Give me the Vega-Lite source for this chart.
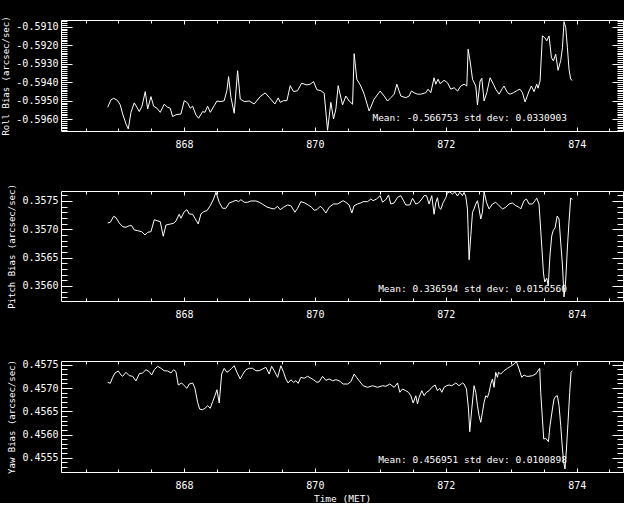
{
"$schema": "https://vega.github.io/schema/vega-lite/v6.json",
"background": "black",
"padding": {"left": 0, "top": 15, "right": 0, "bottom": 0},
"autosize": {"type": "pad"},
"spacing": 60,
"bounds": "flush",
"config": {
 "view": {"stroke": "white", "strokeWidth": 1},
 "axis": {"domain": false, "grid": false, "tickColor": "white", "tickWidth": 1, "labelColor": "white", "titleColor": "white", "labelFont": "DejaVu Sans Mono", "labelFontSize": 10, "titleFont": "DejaVu Sans Mono", "titleFontSize": 9, "titleFontWeight": "normal", "labelOverlap": false, "labelFlush": false, "labelBound": false}
},
"datasets": {
"roll": [
{"t":866.835,"v":-0.59536},{"t":866.885,"v":-0.59496},{"t":866.927,"v":-0.59487},{"t":866.988,"v":-0.59500},{"t":867.027,"v":-0.59523},{"t":867.064,"v":-0.59572},{"t":867.115,"v":-0.59626},{"t":867.150,"v":-0.59653},{"t":867.191,"v":-0.59563},{"t":867.241,"v":-0.59512},{"t":867.282,"v":-0.59536},{"t":867.318,"v":-0.59559},{"t":867.359,"v":-0.59530},{"t":867.409,"v":-0.59451},{"t":867.446,"v":-0.59545},{"t":867.496,"v":-0.59478},{"t":867.537,"v":-0.59530},{"t":867.588,"v":-0.59541},{"t":867.638,"v":-0.59563},{"t":867.699,"v":-0.59519},{"t":867.751,"v":-0.59536},{"t":867.791,"v":-0.59541},{"t":867.827,"v":-0.59586},{"t":867.878,"v":-0.59576},{"t":867.954,"v":-0.59572},{"t":868.005,"v":-0.59500},{"t":868.056,"v":-0.59512},{"t":868.096,"v":-0.59541},{"t":868.133,"v":-0.59530},{"t":868.183,"v":-0.59577},{"t":868.224,"v":-0.59595},{"t":868.285,"v":-0.59559},{"t":868.321,"v":-0.59563},{"t":868.362,"v":-0.59530},{"t":868.402,"v":-0.59563},{"t":868.463,"v":-0.59527},{"t":868.504,"v":-0.59502},{"t":868.565,"v":-0.59505},{"t":868.615,"v":-0.59500},{"t":868.656,"v":-0.59446},{"t":868.682,"v":-0.59370},{"t":868.718,"v":-0.59482},{"t":868.768,"v":-0.59568},{"t":868.820,"v":-0.59338},{"t":868.860,"v":-0.59491},{"t":868.921,"v":-0.59505},{"t":868.997,"v":-0.59502},{"t":869.073,"v":-0.59518},{"t":869.165,"v":-0.59478},{"t":869.241,"v":-0.59458},{"t":869.302,"v":-0.59482},{"t":869.389,"v":-0.59518},{"t":869.440,"v":-0.59485},{"t":869.470,"v":-0.59509},{"t":869.522,"v":-0.59500},{"t":869.573,"v":-0.59500},{"t":869.623,"v":-0.59419},{"t":869.675,"v":-0.59451},{"t":869.736,"v":-0.59446},{"t":869.797,"v":-0.59406},{"t":869.878,"v":-0.59415},{"t":869.928,"v":-0.59411},{"t":869.980,"v":-0.59397},{"t":870.031,"v":-0.59441},{"t":870.092,"v":-0.59446},{"t":870.142,"v":-0.59460},{"t":870.194,"v":-0.59660},{"t":870.244,"v":-0.59509},{"t":870.285,"v":-0.59599},{"t":870.321,"v":-0.59545},{"t":870.356,"v":-0.59419},{"t":870.423,"v":-0.59523},{"t":870.473,"v":-0.59475},{"t":870.524,"v":-0.59502},{"t":870.576,"v":-0.59519},{"t":870.600,"v":-0.59246},{"t":870.641,"v":-0.59384},{"t":870.702,"v":-0.59421},{"t":870.753,"v":-0.59465},{"t":870.829,"v":-0.59556},{"t":870.905,"v":-0.59492},{"t":870.997,"v":-0.59448},{"t":871.058,"v":-0.59475},{"t":871.110,"v":-0.59502},{"t":871.160,"v":-0.59484},{"t":871.211,"v":-0.59465},{"t":871.252,"v":-0.59411},{"t":871.313,"v":-0.59475},{"t":871.389,"v":-0.59484},{"t":871.440,"v":-0.59475},{"t":871.476,"v":-0.59448},{"t":871.516,"v":-0.59457},{"t":871.568,"v":-0.59465},{"t":871.618,"v":-0.59465},{"t":871.695,"v":-0.59457},{"t":871.730,"v":-0.59438},{"t":871.771,"v":-0.59457},{"t":871.821,"v":-0.59376},{"t":871.847,"v":-0.59411},{"t":871.882,"v":-0.59384},{"t":871.913,"v":-0.59408},{"t":871.974,"v":-0.59390},{"t":872.026,"v":-0.59403},{"t":872.076,"v":-0.59438},{"t":872.127,"v":-0.59430},{"t":872.179,"v":-0.59448},{"t":872.229,"v":-0.59421},{"t":872.279,"v":-0.59411},{"t":872.321,"v":-0.59421},{"t":872.341,"v":-0.59222},{"t":872.371,"v":-0.59285},{"t":872.408,"v":-0.59384},{"t":872.458,"v":-0.59421},{"t":872.484,"v":-0.59523},{"t":872.524,"v":-0.59394},{"t":872.550,"v":-0.59379},{"t":872.585,"v":-0.59502},{"t":872.626,"v":-0.59457},{"t":872.676,"v":-0.59376},{"t":872.728,"v":-0.59411},{"t":872.763,"v":-0.59438},{"t":872.814,"v":-0.59465},{"t":872.866,"v":-0.59433},{"t":872.890,"v":-0.59421},{"t":872.942,"v":-0.59457},{"t":872.982,"v":-0.59465},{"t":873.034,"v":-0.59457},{"t":873.095,"v":-0.59444},{"t":873.134,"v":-0.59438},{"t":873.171,"v":-0.59457},{"t":873.211,"v":-0.59507},{"t":873.272,"v":-0.59448},{"t":873.308,"v":-0.59421},{"t":873.348,"v":-0.59451},{"t":873.389,"v":-0.59411},{"t":873.409,"v":-0.59433},{"t":873.440,"v":-0.59394},{"t":873.476,"v":-0.59150},{"t":873.511,"v":-0.59159},{"t":873.542,"v":-0.59177},{"t":873.577,"v":-0.59150},{"t":873.614,"v":-0.59268},{"t":873.644,"v":-0.59285},{"t":873.679,"v":-0.59249},{"t":873.715,"v":-0.59336},{"t":873.756,"v":-0.59282},{"t":873.782,"v":-0.59214},{"t":873.806,"v":-0.59073},{"t":873.832,"v":-0.59105},{"t":873.858,"v":-0.59214},{"t":873.882,"v":-0.59330},{"t":873.908,"v":-0.59384},{"t":873.934,"v":-0.59390}
],
"pitch": [
{"t":866.835,"v":0.357112},{"t":866.875,"v":0.357124},{"t":866.927,"v":0.357230},{"t":866.962,"v":0.357205},{"t":867.012,"v":0.357112},{"t":867.064,"v":0.357046},{"t":867.115,"v":0.357036},{"t":867.165,"v":0.357064},{"t":867.202,"v":0.357064},{"t":867.241,"v":0.356988},{"t":867.293,"v":0.356976},{"t":867.354,"v":0.356958},{"t":867.405,"v":0.356900},{"t":867.446,"v":0.356948},{"t":867.496,"v":0.356958},{"t":867.547,"v":0.357170},{"t":867.588,"v":0.357152},{"t":867.638,"v":0.357135},{"t":867.684,"v":0.356877},{"t":867.725,"v":0.357076},{"t":867.776,"v":0.357089},{"t":867.843,"v":0.357106},{"t":867.878,"v":0.357147},{"t":867.928,"v":0.357265},{"t":867.954,"v":0.357195},{"t":868.005,"v":0.357311},{"t":868.046,"v":0.357346},{"t":868.081,"v":0.357271},{"t":868.133,"v":0.357265},{"t":868.168,"v":0.357195},{"t":868.218,"v":0.357094},{"t":868.260,"v":0.357271},{"t":868.301,"v":0.357311},{"t":868.351,"v":0.357329},{"t":868.402,"v":0.357417},{"t":868.453,"v":0.357535},{"t":868.489,"v":0.357654},{"t":868.539,"v":0.357477},{"t":868.591,"v":0.357371},{"t":868.641,"v":0.357371},{"t":868.692,"v":0.357465},{"t":868.744,"v":0.357488},{"t":868.794,"v":0.357512},{"t":868.835,"v":0.357488},{"t":868.870,"v":0.357523},{"t":868.921,"v":0.357477},{"t":868.973,"v":0.357477},{"t":869.023,"v":0.357500},{"t":869.099,"v":0.357500},{"t":869.150,"v":0.357477},{"t":869.202,"v":0.357442},{"t":869.267,"v":0.357394},{"t":869.328,"v":0.357371},{"t":869.379,"v":0.357359},{"t":869.431,"v":0.357406},{"t":869.470,"v":0.357346},{"t":869.522,"v":0.357389},{"t":869.583,"v":0.357429},{"t":869.634,"v":0.357417},{"t":869.695,"v":0.357301},{"t":869.736,"v":0.357371},{"t":869.786,"v":0.357488},{"t":869.847,"v":0.357465},{"t":869.898,"v":0.357429},{"t":869.950,"v":0.357389},{"t":869.989,"v":0.357336},{"t":870.031,"v":0.357346},{"t":870.081,"v":0.357406},{"t":870.118,"v":0.357371},{"t":870.168,"v":0.357288},{"t":870.218,"v":0.357389},{"t":870.285,"v":0.357447},{"t":870.347,"v":0.357447},{"t":870.432,"v":0.357505},{"t":870.473,"v":0.357477},{"t":870.524,"v":0.357429},{"t":870.565,"v":0.357288},{"t":870.600,"v":0.357417},{"t":870.652,"v":0.357447},{"t":870.702,"v":0.357465},{"t":870.737,"v":0.357488},{"t":870.805,"v":0.357488},{"t":870.855,"v":0.357535},{"t":870.890,"v":0.357505},{"t":870.942,"v":0.357535},{"t":870.997,"v":0.357594},{"t":871.034,"v":0.357477},{"t":871.084,"v":0.357523},{"t":871.125,"v":0.357606},{"t":871.160,"v":0.357447},{"t":871.211,"v":0.357465},{"t":871.263,"v":0.357565},{"t":871.313,"v":0.357594},{"t":871.389,"v":0.357429},{"t":871.450,"v":0.357429},{"t":871.492,"v":0.357548},{"t":871.542,"v":0.357447},{"t":871.583,"v":0.357465},{"t":871.634,"v":0.357535},{"t":871.669,"v":0.357594},{"t":871.705,"v":0.357594},{"t":871.745,"v":0.357447},{"t":871.786,"v":0.357594},{"t":871.821,"v":0.357265},{"t":871.847,"v":0.357470},{"t":871.873,"v":0.357558},{"t":871.898,"v":0.357382},{"t":871.924,"v":0.357353},{"t":871.959,"v":0.357470},{"t":872.000,"v":0.357558},{"t":872.026,"v":0.357646},{"t":872.061,"v":0.357659},{"t":872.102,"v":0.357624},{"t":872.137,"v":0.357659},{"t":872.179,"v":0.357588},{"t":872.214,"v":0.357654},{"t":872.255,"v":0.357594},{"t":872.279,"v":0.357654},{"t":872.305,"v":0.357583},{"t":872.331,"v":0.357359},{"t":872.356,"v":0.356464},{"t":872.382,"v":0.356888},{"t":872.408,"v":0.357301},{"t":872.432,"v":0.357359},{"t":872.458,"v":0.357447},{"t":872.484,"v":0.357505},{"t":872.508,"v":0.357359},{"t":872.534,"v":0.357182},{"t":872.560,"v":0.357301},{"t":872.585,"v":0.357664},{"t":872.621,"v":0.357477},{"t":872.661,"v":0.357359},{"t":872.713,"v":0.357447},{"t":872.763,"v":0.357477},{"t":872.814,"v":0.357417},{"t":872.866,"v":0.357359},{"t":872.916,"v":0.357389},{"t":872.966,"v":0.357447},{"t":873.018,"v":0.357465},{"t":873.069,"v":0.357417},{"t":873.119,"v":0.357389},{"t":873.145,"v":0.357359},{"t":873.195,"v":0.357505},{"t":873.232,"v":0.357535},{"t":873.272,"v":0.357447},{"t":873.324,"v":0.357447},{"t":873.363,"v":0.357505},{"t":873.389,"v":0.357548},{"t":873.424,"v":0.357447},{"t":873.466,"v":0.356706},{"t":873.492,"v":0.356229},{"t":873.511,"v":0.356071},{"t":873.542,"v":0.356136},{"t":873.565,"v":0.356009},{"t":873.592,"v":0.356547},{"t":873.618,"v":0.356882},{"t":873.641,"v":0.356979},{"t":873.669,"v":0.357024},{"t":873.702,"v":0.357235},{"t":873.730,"v":0.357182},{"t":873.756,"v":0.356759},{"t":873.782,"v":0.356371},{"t":873.806,"v":0.355806},{"t":873.832,"v":0.356106},{"t":873.858,"v":0.356688},{"t":873.882,"v":0.357129},{"t":873.908,"v":0.357553},{"t":873.934,"v":0.357526}
],
"yaw": [
{"t":866.835,"v":0.457123},{"t":866.875,"v":0.457101},{"t":866.911,"v":0.457230},{"t":866.947,"v":0.457323},{"t":866.997,"v":0.457366},{"t":867.038,"v":0.457280},{"t":867.064,"v":0.457252},{"t":867.115,"v":0.457338},{"t":867.165,"v":0.457265},{"t":867.217,"v":0.457252},{"t":867.267,"v":0.457151},{"t":867.318,"v":0.457308},{"t":867.369,"v":0.457323},{"t":867.420,"v":0.457394},{"t":867.470,"v":0.457351},{"t":867.507,"v":0.457280},{"t":867.547,"v":0.457394},{"t":867.598,"v":0.457467},{"t":867.649,"v":0.457424},{"t":867.699,"v":0.457372},{"t":867.751,"v":0.457366},{"t":867.802,"v":0.457323},{"t":867.843,"v":0.457394},{"t":867.878,"v":0.457351},{"t":867.913,"v":0.457065},{"t":867.965,"v":0.457108},{"t":868.005,"v":0.457049},{"t":868.046,"v":0.456994},{"t":868.081,"v":0.457086},{"t":868.133,"v":0.457108},{"t":868.168,"v":0.456994},{"t":868.209,"v":0.456692},{"t":868.240,"v":0.456548},{"t":868.285,"v":0.456533},{"t":868.321,"v":0.456563},{"t":868.362,"v":0.456619},{"t":868.402,"v":0.456563},{"t":868.438,"v":0.456705},{"t":868.473,"v":0.456834},{"t":868.504,"v":0.456963},{"t":868.539,"v":0.456677},{"t":868.576,"v":0.457301},{"t":868.615,"v":0.457424},{"t":868.656,"v":0.457338},{"t":868.692,"v":0.457372},{"t":868.728,"v":0.457424},{"t":868.768,"v":0.457480},{"t":868.809,"v":0.457338},{"t":868.860,"v":0.457194},{"t":868.911,"v":0.457323},{"t":868.947,"v":0.457394},{"t":868.997,"v":0.457424},{"t":869.049,"v":0.457424},{"t":869.099,"v":0.457372},{"t":869.150,"v":0.457372},{"t":869.202,"v":0.457409},{"t":869.252,"v":0.457445},{"t":869.302,"v":0.457301},{"t":869.339,"v":0.457467},{"t":869.379,"v":0.457372},{"t":869.431,"v":0.457230},{"t":869.481,"v":0.457480},{"t":869.522,"v":0.457338},{"t":869.557,"v":0.457194},{"t":869.592,"v":0.457108},{"t":869.634,"v":0.457178},{"t":869.675,"v":0.457123},{"t":869.710,"v":0.457157},{"t":869.745,"v":0.457101},{"t":869.786,"v":0.457230},{"t":869.837,"v":0.457209},{"t":869.888,"v":0.457252},{"t":869.928,"v":0.457222},{"t":869.980,"v":0.457178},{"t":870.031,"v":0.457123},{"t":870.066,"v":0.457135},{"t":870.118,"v":0.457252},{"t":870.168,"v":0.457166},{"t":870.218,"v":0.457194},{"t":870.270,"v":0.457157},{"t":870.321,"v":0.457178},{"t":870.371,"v":0.457157},{"t":870.432,"v":0.457086},{"t":870.499,"v":0.457086},{"t":870.550,"v":0.457135},{"t":870.600,"v":0.457301},{"t":870.637,"v":0.457230},{"t":870.676,"v":0.457157},{"t":870.737,"v":0.457049},{"t":870.805,"v":0.457015},{"t":870.881,"v":0.457049},{"t":870.957,"v":0.457015},{"t":871.034,"v":0.457049},{"t":871.084,"v":0.457037},{"t":871.145,"v":0.457086},{"t":871.211,"v":0.457015},{"t":871.263,"v":0.457108},{"t":871.298,"v":0.456908},{"t":871.339,"v":0.456978},{"t":871.389,"v":0.456942},{"t":871.430,"v":0.456908},{"t":871.466,"v":0.456834},{"t":871.501,"v":0.456677},{"t":871.542,"v":0.456834},{"t":871.568,"v":0.456656},{"t":871.592,"v":0.456800},{"t":871.634,"v":0.456942},{"t":871.669,"v":0.456834},{"t":871.705,"v":0.456908},{"t":871.745,"v":0.456942},{"t":871.786,"v":0.457015},{"t":871.837,"v":0.457065},{"t":871.873,"v":0.456942},{"t":871.908,"v":0.456994},{"t":871.939,"v":0.456908},{"t":871.974,"v":0.457015},{"t":872.011,"v":0.457049},{"t":872.050,"v":0.457065},{"t":872.092,"v":0.457049},{"t":872.153,"v":0.457108},{"t":872.203,"v":0.457049},{"t":872.255,"v":0.457108},{"t":872.279,"v":0.457086},{"t":872.316,"v":0.456978},{"t":872.347,"v":0.456548},{"t":872.366,"v":0.456060},{"t":872.397,"v":0.456548},{"t":872.432,"v":0.457049},{"t":872.458,"v":0.456908},{"t":872.484,"v":0.456619},{"t":872.508,"v":0.456404},{"t":872.534,"v":0.456262},{"t":872.560,"v":0.456477},{"t":872.585,"v":0.456692},{"t":872.611,"v":0.456834},{"t":872.637,"v":0.456800},{"t":872.661,"v":0.456908},{"t":872.687,"v":0.457086},{"t":872.713,"v":0.457194},{"t":872.737,"v":0.457015},{"t":872.763,"v":0.457338},{"t":872.789,"v":0.457230},{"t":872.805,"v":0.457338},{"t":872.840,"v":0.457301},{"t":872.890,"v":0.457372},{"t":872.942,"v":0.457424},{"t":872.992,"v":0.457467},{"t":873.043,"v":0.457516},{"t":873.079,"v":0.457566},{"t":873.119,"v":0.457409},{"t":873.160,"v":0.457230},{"t":873.195,"v":0.457280},{"t":873.232,"v":0.457252},{"t":873.272,"v":0.457252},{"t":873.324,"v":0.457265},{"t":873.374,"v":0.457301},{"t":873.409,"v":0.457372},{"t":873.435,"v":0.457424},{"t":873.450,"v":0.456908},{"t":873.476,"v":0.456333},{"t":873.496,"v":0.455903},{"t":873.527,"v":0.455918},{"t":873.568,"v":0.455845},{"t":873.592,"v":0.456189},{"t":873.629,"v":0.456548},{"t":873.653,"v":0.456763},{"t":873.679,"v":0.456822},{"t":873.705,"v":0.456834},{"t":873.730,"v":0.456619},{"t":873.756,"v":0.456189},{"t":873.782,"v":0.455688},{"t":873.802,"v":0.455402},{"t":873.821,"v":0.455258},{"t":873.843,"v":0.455688},{"t":873.867,"v":0.456262},{"t":873.893,"v":0.456908},{"t":873.913,"v":0.457338},{"t":873.934,"v":0.457372}
],
"notes": [{"panel": "roll", "label": "Mean: -0.566753 std dev: 0.0330903"}, {"panel": "pitch", "label": "Mean: 0.336594 std dev: 0.0156560"}, {"panel": "yaw", "label": "Mean: 0.456951 std dev: 0.0100898"}]
},
"vconcat": [
{
 "width": 562, "height": 111,
 "layer": [
  {"data": {"name": "roll"},
   "mark": {"type": "line", "color": "white", "strokeWidth": 1, "clip": true},
   "encoding": {
    "x": {"field": "t", "type": "quantitative", "scale": {"domain": [866.122, 874.707], "nice": false, "zero": false},
     "axis": {"orient": "bottom", "title": null, "values": [866.5,867,867.5,868,868.5,869,869.5,870,870.5,871,871.5,872,872.5,873,873.5,874,874.5], "tickSize": {"condition": {"test": "abs(datum.value/2 - round(datum.value/2)) < 0.001", "value": -4}, "value": -3}, "labelExpr": "abs(datum.value/2 - round(datum.value/2)) < 0.001 ? format(datum.value, 'd') : ''", "labelPadding": 12}},
    "y": {"field": "v", "type": "quantitative", "scale": {"domain": [-0.59664, -0.59064], "nice": false, "zero": false},
     "axis": {"orient": "left", "title": "Roll Bias (arcsec/sec)", "titleX": -51, "values": [-0.5966,-0.5965,-0.5964,-0.5963,-0.5962,-0.5961,-0.5960,-0.5959,-0.5958,-0.5957,-0.5956,-0.5955,-0.5954,-0.5953,-0.5952,-0.5951,-0.5950,-0.5949,-0.5948,-0.5947,-0.5946,-0.5945,-0.5944,-0.5943,-0.5942,-0.5941,-0.5940,-0.5939,-0.5938,-0.5937,-0.5936,-0.5935,-0.5934,-0.5933,-0.5932,-0.5931,-0.5930,-0.5929,-0.5928,-0.5927,-0.5926,-0.5925,-0.5924,-0.5923,-0.5922,-0.5921,-0.5920,-0.5919,-0.5918,-0.5917,-0.5916,-0.5915,-0.5914,-0.5913,-0.5912,-0.5911,-0.5910,-0.5909,-0.5908,-0.5907], "tickSize": {"condition": {"test": "abs(datum.value*1000 - round(datum.value*1000)) < 0.001", "value": -11}, "value": -6}, "labelExpr": "abs(datum.value*1000 - round(datum.value*1000)) < 0.001 ? replace(format(datum.value, '.4f'), '\u2212', '-') : ''", "labelPadding": 14}}
   }},
  {"data": {"name": "notes"},
   "transform": [{"filter": "datum.panel == 'roll'"}],
   "mark": {"type": "text", "align": "right", "baseline": "alphabetic", "color": "white", "font": "DejaVu Sans Mono", "fontSize": 9.5},
   "encoding": {
    "text": {"field": "label", "type": "nominal"},
    "x": {"datum": 873.85, "type": "quantitative", "axis": {"orient": "top", "title": null, "labels": false, "values": [866.5,867,867.5,868,868.5,869,869.5,870,870.5,871,871.5,872,872.5,873,873.5,874,874.5], "tickSize": {"condition": {"test": "abs(datum.value/2 - round(datum.value/2)) < 0.001", "value": -4}, "value": -3}}},
    "y": {"datum": -0.59610, "type": "quantitative", "axis": {"orient": "right", "title": null, "labels": false, "values": [-0.5966,-0.5965,-0.5964,-0.5963,-0.5962,-0.5961,-0.5960,-0.5959,-0.5958,-0.5957,-0.5956,-0.5955,-0.5954,-0.5953,-0.5952,-0.5951,-0.5950,-0.5949,-0.5948,-0.5947,-0.5946,-0.5945,-0.5944,-0.5943,-0.5942,-0.5941,-0.5940,-0.5939,-0.5938,-0.5937,-0.5936,-0.5935,-0.5934,-0.5933,-0.5932,-0.5931,-0.5930,-0.5929,-0.5928,-0.5927,-0.5926,-0.5925,-0.5924,-0.5923,-0.5922,-0.5921,-0.5920,-0.5919,-0.5918,-0.5917,-0.5916,-0.5915,-0.5914,-0.5913,-0.5912,-0.5911,-0.5910,-0.5909,-0.5908,-0.5907], "tickSize": {"condition": {"test": "abs(datum.value*1000 - round(datum.value*1000)) < 0.001", "value": -11}, "value": -6}}}
   }}
 ],
 "resolve": {"axis": {"x": "independent", "y": "independent"}}
},
{
 "width": 562, "height": 110,
 "layer": [
  {"data": {"name": "pitch"},
   "mark": {"type": "line", "color": "white", "strokeWidth": 1, "clip": true},
   "encoding": {
    "x": {"field": "t", "type": "quantitative", "scale": {"domain": [866.122, 874.707], "nice": false, "zero": false},
     "axis": {"orient": "bottom", "title": null, "values": [866.5,867,867.5,868,868.5,869,869.5,870,870.5,871,871.5,872,872.5,873,873.5,874,874.5], "tickSize": {"condition": {"test": "abs(datum.value/2 - round(datum.value/2)) < 0.001", "value": -4}, "value": -3}, "labelExpr": "abs(datum.value/2 - round(datum.value/2)) < 0.001 ? format(datum.value, 'd') : ''", "labelPadding": 12}},
    "y": {"field": "v", "type": "quantitative", "scale": {"domain": [0.355735, 0.357676], "nice": false, "zero": false},
     "axis": {"orient": "left", "title": "Pitch Bias (arcsec/sec)", "titleX": -45, "values": [0.3558,0.3559,0.3560,0.3561,0.3562,0.3563,0.3564,0.3565,0.3566,0.3567,0.3568,0.3569,0.3570,0.3571,0.3572,0.3573,0.3574,0.3575,0.3576], "tickSize": {"condition": {"test": "abs(datum.value*2000 - round(datum.value*2000)) < 0.001", "value": -11}, "value": -6}, "labelExpr": "abs(datum.value*2000 - round(datum.value*2000)) < 0.001 ? format(datum.value, '.4f') : ''", "labelPadding": 14}}
   }},
  {"data": {"name": "notes"},
   "transform": [{"filter": "datum.panel == 'pitch'"}],
   "mark": {"type": "text", "align": "right", "baseline": "alphabetic", "color": "white", "font": "DejaVu Sans Mono", "fontSize": 9.5},
   "encoding": {
    "text": {"field": "label", "type": "nominal"},
    "x": {"datum": 873.85, "type": "quantitative", "axis": {"orient": "top", "title": null, "labels": false, "values": [866.5,867,867.5,868,868.5,869,869.5,870,870.5,871,871.5,872,872.5,873,873.5,874,874.5], "tickSize": {"condition": {"test": "abs(datum.value/2 - round(datum.value/2)) < 0.001", "value": -4}, "value": -3}}},
    "y": {"datum": 0.355899, "type": "quantitative", "axis": {"orient": "right", "title": null, "labels": false, "values": [0.3558,0.3559,0.3560,0.3561,0.3562,0.3563,0.3564,0.3565,0.3566,0.3567,0.3568,0.3569,0.3570,0.3571,0.3572,0.3573,0.3574,0.3575,0.3576], "tickSize": {"condition": {"test": "abs(datum.value*2000 - round(datum.value*2000)) < 0.001", "value": -11}, "value": -6}}}
   }}
 ],
 "resolve": {"axis": {"x": "independent", "y": "independent"}}
},
{
 "width": 562, "height": 111,
 "layer": [
  {"data": {"name": "yaw"},
   "mark": {"type": "line", "color": "white", "strokeWidth": 1, "clip": true},
   "encoding": {
    "x": {"field": "t", "type": "quantitative", "scale": {"domain": [866.122, 874.707], "nice": false, "zero": false},
     "axis": {"orient": "bottom", "title": "Time (MET)", "titleFontSize": 9.5, "titlePadding": 2, "values": [866.5,867,867.5,868,868.5,869,869.5,870,870.5,871,871.5,872,872.5,873,873.5,874,874.5], "tickSize": {"condition": {"test": "abs(datum.value/2 - round(datum.value/2)) < 0.001", "value": -4}, "value": -3}, "labelExpr": "abs(datum.value/2 - round(datum.value/2)) < 0.001 ? format(datum.value, 'd') : ''", "labelPadding": 12}},
    "y": {"field": "v", "type": "quantitative", "scale": {"domain": [0.455194, 0.457581], "nice": false, "zero": false},
     "axis": {"orient": "left", "title": "Yaw Bias (arcsec/sec)", "titleX": -45, "values": [0.4552,0.4553,0.4554,0.4555,0.4556,0.4557,0.4558,0.4559,0.4560,0.4561,0.4562,0.4563,0.4564,0.4565,0.4566,0.4567,0.4568,0.4569,0.4570,0.4571,0.4572,0.4573,0.4574,0.4575], "tickSize": {"condition": {"test": "abs(datum.value*2000 - round(datum.value*2000)) < 0.001", "value": -11}, "value": -6}, "labelExpr": "abs(datum.value*2000 - round(datum.value*2000)) < 0.001 ? format(datum.value, '.4f') : ''", "labelPadding": 14}}
   }},
  {"data": {"name": "notes"},
   "transform": [{"filter": "datum.panel == 'yaw'"}],
   "mark": {"type": "text", "align": "right", "baseline": "alphabetic", "color": "white", "font": "DejaVu Sans Mono", "fontSize": 9.5},
   "encoding": {
    "text": {"field": "label", "type": "nominal"},
    "x": {"datum": 873.85, "type": "quantitative", "axis": {"orient": "top", "title": null, "labels": false, "values": [866.5,867,867.5,868,868.5,869,869.5,870,870.5,871,871.5,872,872.5,873,873.5,874,874.5], "tickSize": {"condition": {"test": "abs(datum.value/2 - round(datum.value/2)) < 0.001", "value": -4}, "value": -3}}},
    "y": {"datum": 0.455394, "type": "quantitative", "axis": {"orient": "right", "title": null, "labels": false, "values": [0.4552,0.4553,0.4554,0.4555,0.4556,0.4557,0.4558,0.4559,0.4560,0.4561,0.4562,0.4563,0.4564,0.4565,0.4566,0.4567,0.4568,0.4569,0.4570,0.4571,0.4572,0.4573,0.4574,0.4575], "tickSize": {"condition": {"test": "abs(datum.value*2000 - round(datum.value*2000)) < 0.001", "value": -11}, "value": -6}}}
   }}
 ],
 "resolve": {"axis": {"x": "independent", "y": "independent"}}
}
]
}
